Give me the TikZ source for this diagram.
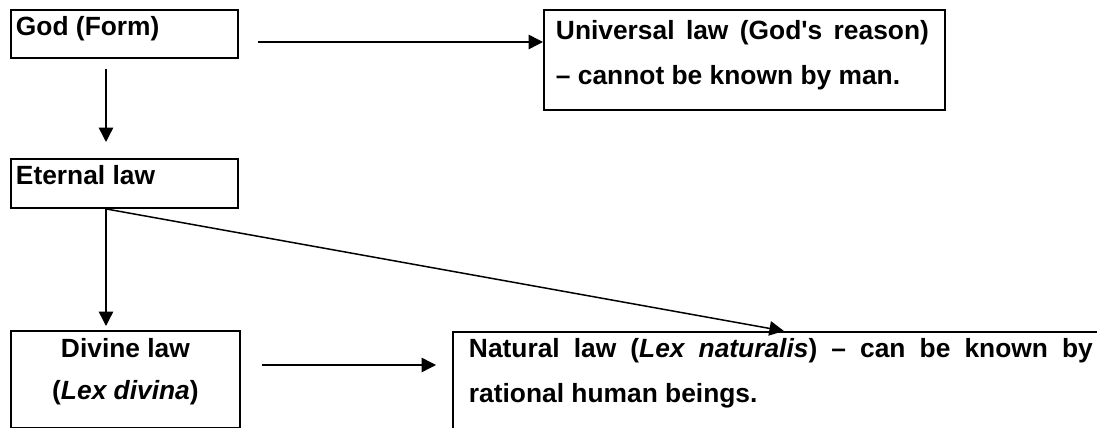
\documentclass[tikz,border=0pt]{standalone}
\usepackage{fontspec}
\setmainfont{Liberation Sans}
\usetikzlibrary{arrows.meta}

\newcommand{\lawfont}{\bfseries\fontsize{15pt}{25.6pt}\selectfont}
\tikzset{
  lawbox/.style={draw, line width=1.1pt, anchor=north west, inner ysep=0pt, font=\lawfont},
  arr/.style={line width=0.85pt, -{Triangle[length=0.29cm,width=0.29cm]}}
}

\begin{document}
\begin{tikzpicture}[x=0.02cm, y=-0.02cm]
  \useasboundingbox (0,0) rectangle (1097,428);
  \clip (0,0) rectangle (1097,428);
  \coordinate (spine) at (106,0);
  \coordinate (toprow) at (0,42);
  \coordinate (lowrow) at (0,365);

  \node [lawbox, inner xsep=0.1cm, text height=0.52cm, text depth=0.44cm] (god) at (10,9)
    {\parbox[t]{4.34cm}{God (Form)}};
  \node [lawbox, inner xsep=0.24cm, text height=0.6cm, text depth=1.4cm] (univ) at (543,9)
    {\parbox[t]{7.54cm}{\makebox[7.46cm][s]{Universal law (God\textquotesingle s reason)}\\– cannot be known by man.}};
  \node [lawbox, inner xsep=0.1cm, text height=0.52cm, text depth=0.46cm] (eternal) at (10,158)
    {\parbox[t]{4.34cm}{Eternal law}};
  \node [lawbox, inner xsep=0pt, text height=0.54cm, text depth=1.4cm] (divine) at (10,330)
    {\parbox[t]{4.58cm}{\centering Divine law\\[-0.06cm](\textit{Lex divina})}};
  % right and lower edges run off the page
  \node [lawbox, inner xsep=0.32cm, text height=0.52cm, text depth=1.8cm] (natural) at (452,331)
    {\parbox[t]{12.6cm}{\makebox[12.48cm][s]{Natural law (\textit{Lex naturalis}) – can be known by}\\rational human beings.}};

  \draw [arr, shorten <=0.38cm] (god.east |- toprow) -- (univ.west |- toprow);
  \draw [arr, shorten <=0.2cm, shorten >=0.32cm] (god.south -| spine) -- (eternal.north -| spine);
  \draw [arr, shorten >=0.08cm] (eternal.south -| spine) -- (divine.north -| spine);
  \draw [arr] (eternal.south -| spine) -- (natural.north);
  \draw [arr, shorten <=0.42cm, shorten >=0.32cm] (divine.east |- lowrow) -- (natural.west |- lowrow);
\end{tikzpicture}
\end{document}
